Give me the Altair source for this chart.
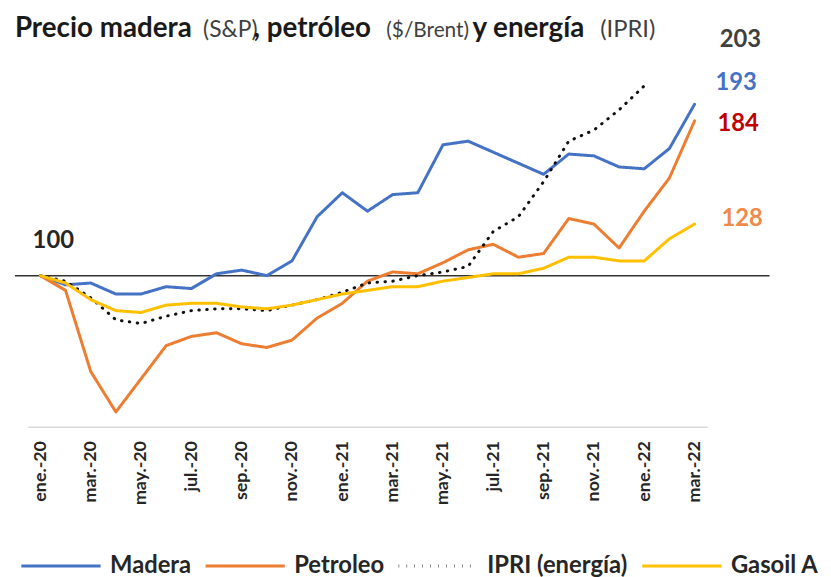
import altair as alt
import pandas as pd

months = ["ene.-20", "feb.-20", "mar.-20", "abr.-20", "may.-20", "jun.-20", "jul.-20", "ago.-20",
          "sep.-20", "oct.-20", "nov.-20", "dic.-20",
          "ene.-21", "feb.-21", "mar.-21", "abr.-21", "may.-21", "jun.-21", "jul.-21", "ago.-21",
          "sep.-21", "oct.-21", "nov.-21", "dic.-21",
          "ene.-22", "feb.-22", "mar.-22"]
madera = [100, 95, 96, 90, 90, 94, 93, 101, 103, 100, 108, 132, 145, 135, 144, 145, 171, 173,
          167, 161, 155, 166, 165, 159, 158, 169, 193]
petroleo = [100, 92, 48, 26, 44, 62, 67, 69, 63, 61, 65, 77, 85, 97, 102, 101, 107, 114,
            117, 110, 112, 131, 128, 115, 135, 153, 184]
ipri = [100, 97, 88, 76, 74, 78, 81, 82, 82, 81, 84, 87, 91, 96, 97, 100, 102, 105,
        124, 132, 151, 173, 179, 190, 203, None, None]
gasoil = [100, 96, 87, 81, 80, 84, 85, 85, 83, 82, 84, 87, 90, 92, 94, 94, 97, 99,
          101, 101, 104, 110, 110, 108, 108, 120, 128]
series_names = ["Madera", "Petroleo", "IPRI (energía)", "Gasoil A"]
series_colors = ["#4472C4", "#ED7D31", "#111111", "#FFC000"]
tick_months = months[::2]

rows = []
for name, vals in zip(series_names, [madera, petroleo, ipri, gasoil]):
    for m, v in zip(months, vals):
        if v is not None:
            rows.append({"mes": m, "valor": v, "serie": name})
df = pd.DataFrame(rows)

FONT = "Lato"
yscale = alt.Scale(domain=[18, 240])
xscale = alt.Scale(type="point", domain=months, padding=0.5)
xenc = alt.X("mes:N", scale=xscale, sort=months, title=None,
             axis=alt.Axis(values=tick_months, labelAngle=270, labelFont=FONT,
                           labelFontSize=18, labelFontWeight="bold", labelColor="#262626",
                           labelPadding=14, ticks=False, grid=False, domainColor="#D9D9D9",
                           domainWidth=1.5))
yenc_kw = dict(scale=yscale, axis=None)

rule = alt.Chart(pd.DataFrame({"v": [100]})).mark_rule(color="#333333", strokeWidth=1.5).encode(
    y=alt.Y("v:Q", **yenc_kw), x=alt.value(-13), x2=alt.value(749))

lines = alt.Chart(df).mark_line(strokeWidth=3, strokeCap="round", strokeJoin="round").encode(
    x=xenc,
    y=alt.Y("valor:Q", **yenc_kw),
    color=alt.Color("serie:N", scale=alt.Scale(domain=series_names, range=series_colors),
                    title=None),
    strokeDash=alt.StrokeDash("serie:N", scale=alt.Scale(
        domain=series_names, range=[[1, 0], [1, 0], [0.5, 7.5], [1, 0]]), title=None),
)


def end_label(month, value, color, dx, dy):
    d = pd.DataFrame({"mes": [month], "valor": [value]})
    return alt.Chart(d).mark_text(font=FONT, fontSize=24, fontWeight="bold", color=color,
                                  dx=dx, dy=dy, align="center", baseline="middle").encode(
        x=xenc, y=alt.Y("valor:Q", **yenc_kw), text=alt.Text("valor:Q", format="d"))


labels = [
    end_label(months[24], ipri[24], "#404040", 97, -46),
    end_label(months[-1], madera[-1], "#4472C4", 42, -21),
    end_label(months[-1], petroleo[-1], "#C00000", 44, 3),
    end_label(months[-1], gasoil[-1], "#F08A4B", 48, -5),
    end_label(months[0], madera[0], "#262626", 13, -35),
]

title_parts = [
    ("Precio madera", "bold", "#1a1a1a", -13, 28),
    ("(S&P)", "normal", "#404040", 177, 23),
    (", petróleo", "bold", "#1a1a1a", 228, 28),
    ("($/Brent)", "normal", "#404040", 362, 21),
    ("y energía", "bold", "#1a1a1a", 449, 28),
    ("(IPRI)", "normal", "#404040", 578, 24),
]
title_layers = []
for txt, w, c, xpos, fs in title_parts:
    title_layers.append(
        alt.Chart(pd.DataFrame({"t": [0]})).mark_text(
            text=txt, font=FONT, fontSize=fs, fontWeight=w, color=c, align="left",
            baseline="alphabetic").encode(x=alt.value(xpos), y=alt.value(19)))

chart = alt.layer(rule, lines, *labels, *title_layers).properties(
    width=686, height=413,
    autosize=alt.AutoSizeParams(type="none"),
    padding={"left": 20, "top": 7, "right": 117, "bottom": 154},
).configure_view(stroke=None).configure_legend(
    orient="none", legendX=-8, legendY=512, direction="horizontal",
    symbolType="stroke", symbolSize=6400, symbolStrokeWidth=3,
    labelFont=FONT, labelFontSize=24, labelFontWeight="bold", labelColor="#262626",
    labelOffset=8, columnPadding=8, padding=0, labelLimit=300,
)

chart.save("out.html", embed_options={"renderer": "svg", "actions": False})
